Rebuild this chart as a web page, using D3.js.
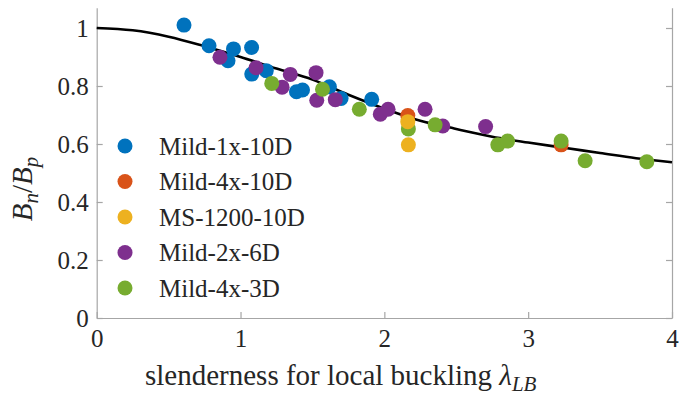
<!DOCTYPE html>
<html>
<head>
<meta charset="utf-8">
<script src="https://cdn.jsdelivr.net/npm/d3@7"></script>
<style>
  html, body { margin: 0; padding: 0; background: #fff; }
  svg { display: block; font-family: "Liberation Serif", "Times New Roman", serif; }
</style>
</head>
<body>
<div id="chart"></div>
<script>
// series names (legend order) and colours
const seriesNames = ["Mild-1x-10D", "Mild-4x-10D", "MS-1200-10D", "Mild-2x-6D", "Mild-4x-3D"];
const seriesColors = ["#0072BD", "#D95319", "#EDB120", "#7E2F8E", "#77AC30"];

// test points [lambda, Bn/Bp]
const mild1x10D = [
  [0.607, 1.010], [0.781, 0.939], [0.951, 0.928], [1.077, 0.933], [0.913, 0.887],
  [1.078, 0.841], [1.179, 0.853], [1.389, 0.780], [1.431, 0.786], [1.618, 0.797],
  [1.699, 0.757], [1.912, 0.754]
];
const mild4x10D = [[2.163, 0.698], [3.229, 0.597]];
const ms1200_10D = [[2.163, 0.677], [2.167, 0.597]];
const mild2x6D = [
  [0.857, 0.899], [1.108, 0.863], [1.289, 0.796], [1.346, 0.840], [1.525, 0.846],
  [1.530, 0.751], [1.659, 0.753], [1.972, 0.703], [2.026, 0.720], [2.283, 0.720],
  [2.406, 0.662], [2.704, 0.660]
];
const mild4x3D = [
  [1.217, 0.809], [1.570, 0.789], [1.826, 0.720], [2.167, 0.652], [2.353, 0.666],
  [2.789, 0.597], [2.857, 0.610], [3.229, 0.610], [3.396, 0.542], [3.825, 0.539]
];

// design curve
const curveX = [0, 0.25, 0.5, 0.75, 1.0, 1.25, 1.5, 1.75, 2.0, 2.25, 2.5, 2.75, 3.0, 3.25, 3.5, 3.75, 4.0];
const curveY = [1.000, 0.992, 0.970, 0.937, 0.900, 0.860, 0.822, 0.770, 0.722, 0.680, 0.652, 0.625, 0.605, 0.587, 0.569, 0.551, 0.537];

const xTicks = [0, 1, 2, 3, 4];
const yTicks = [0, 0.2, 0.4, 0.6, 0.8, 1];

const W = 681, H = 398;
const plotLeft = 96.7, plotRight = 672, plotTop = 7.7, plotBottom = 318;
const axisColor = "#a6a6a6";
const textColor = "#262626";

const xScale = d3.scaleLinear().domain([0, 4]).range([plotLeft, plotRight]);
const yScale = d3.scaleLinear().domain([0, 1.07]).range([plotBottom, plotTop]);

const svg = d3.select("#chart").append("svg")
  .attr("width", W)
  .attr("height", H);

// axes (ticks point inward, no top line)
const xAxis = svg.append("g")
  .attr("transform", `translate(0, ${plotBottom})`)
  .call(d3.axisBottom(xScale).tickValues(xTicks).tickFormat(d3.format("d"))
    .tickSizeInner(-6).tickSizeOuter(0).tickPadding(11));
const yAxis = svg.append("g")
  .attr("transform", `translate(${plotLeft}, 0)`)
  .call(d3.axisLeft(yScale).tickValues(yTicks).tickFormat((d) => (d === 0 || d === 1 ? d : d.toFixed(1)))
    .tickSizeInner(-6).tickSizeOuter(0).tickPadding(8));
const yAxisRight = svg.append("g")
  .attr("transform", `translate(${plotRight}, 0)`)
  .call(d3.axisRight(yScale).tickValues(yTicks).tickFormat("")
    .tickSizeInner(-6).tickSizeOuter(0));

[xAxis, yAxis, yAxisRight].forEach((g) => {
  g.attr("font-family", null);
  g.select(".domain").attr("stroke", axisColor).attr("stroke-width", 1.2);
  g.selectAll(".tick line").attr("stroke", axisColor).attr("stroke-width", 1.2);
  g.selectAll(".tick text")
    .attr("fill", textColor)
    .style("font-size", "25px");
});

// fitted curve
const line = d3.line()
  .curve(d3.curveMonotoneX)
  .x((d) => xScale(d[0]))
  .y((d) => yScale(d[1]));
svg.append("path")
  .datum(curveX.map((x, i) => [x, curveY[i]]))
  .attr("d", line)
  .attr("fill", "none")
  .attr("stroke", "#000")
  .attr("stroke-width", 2.6);

// scatter points; drawing order picked to match overlaps
const seriesData = [mild1x10D, mild4x10D, ms1200_10D, mild2x6D, mild4x3D];
const drawOrder = [0, 1, 3, 4, 2];
const r = 7.5;
drawOrder.forEach((k) => {
  svg.append("g")
    .selectAll("circle")
    .data(seriesData[k])
    .enter()
    .append("circle")
    .attr("cx", (d) => xScale(d[0]))
    .attr("cy", (d) => yScale(d[1]))
    .attr("r", r)
    .attr("fill", seriesColors[k]);
});

// legend
const legend = svg.append("g");
seriesNames.forEach((name, i) => {
  const y = 146 + i * 35.5;
  legend.append("circle")
    .attr("cx", 125).attr("cy", y).attr("r", 7.5)
    .attr("fill", seriesColors[i]);
  legend.append("text")
    .attr("x", 159).attr("y", y + 8.5)
    .attr("fill", textColor)
    .style("font-size", "25px")
    .text(name);
});

// x label
const xl = svg.append("text")
  .attr("x", 145).attr("y", 385)
  .attr("fill", textColor)
  .style("font-size", "29px");
xl.append("tspan").text("slenderness for local buckling ");
xl.append("tspan").style("font-style", "italic").text("\u03BB");
xl.append("tspan").style("font-style", "italic").style("font-size", "21px")
  .attr("dy", 6).text("LB");

// y label
const yl = svg.append("text")
  .attr("transform", "translate(32, 189) rotate(-90)")
  .attr("text-anchor", "middle")
  .attr("fill", textColor)
  .style("font-size", "29px")
  .style("font-style", "italic");
yl.append("tspan").text("B");
yl.append("tspan").style("font-size", "21px").attr("dy", 6).text("n");
yl.append("tspan").attr("dy", -6).style("font-style", "normal").text("/");
yl.append("tspan").text("B");
yl.append("tspan").style("font-size", "21px").attr("dy", 6).text("p");
</script>
</body>
</html>
